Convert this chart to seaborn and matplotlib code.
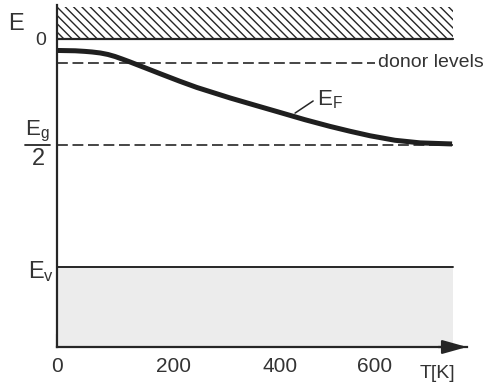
import numpy as np
import matplotlib
matplotlib.use("Agg")
import matplotlib.pyplot as plt
import seaborn as sns
from matplotlib.transforms import blended_transform_factory

# Fermi level of an n-type semiconductor versus temperature
temperature = [0, 30, 46, 58, 72, 85, 97, 109, 123, 149, 176, 211, 242, 304, 352, 401,
               451, 503, 546, 590, 646, 705, 783]
fermi_level = [-0.0504, -0.0518, -0.0544, -0.0570, -0.0614, -0.0680, -0.0768, -0.0877,
               -0.1009, -0.1263, -0.1526, -0.1855, -0.2127, -0.2588, -0.2908, -0.3224,
               -0.3540, -0.3833, -0.4048, -0.4246, -0.4443, -0.4557, -0.4605]

# Band diagram levels (conduction band edge at 0)
conduction_edge = 0.0
band_top = 0.14
donor_level = -0.105
midgap_level = -0.465
valence_edge = -1.0
t_end = 785
donor_end = 601

x_ticks = [0, 100, 200, 300, 400, 500, 600, 700]
x_tick_labels = ["0", "", "200", "", "400", "", "600", ""]

sns.set_theme(style="white")
plt.rcParams["font.family"] = ["Liberation Sans", "DejaVu Sans"]
plt.rcParams["mathtext.fontset"] = "custom"
plt.rcParams["mathtext.rm"] = "Liberation Sans"
plt.rcParams["hatch.linewidth"] = 1.0

ink = "#262626"
text_ink = "#333333"

fig = plt.figure(figsize=(4.84, 3.85), dpi=100)
ax = fig.add_axes([57 / 484, 38 / 385, 410 / 484, 342 / 385])

# Hand-drawn temperature axis: spacing tightens at high T
c = 2.222e-4


def fwd(t):
    t = np.asarray(t, dtype=float)
    return t - c * t ** 2


def inv(u):
    u = np.asarray(u, dtype=float)
    return (1 - np.sqrt(np.clip(1 - 4 * c * u, 0, None))) / (2 * c)


ax.set_xscale("function", functions=(fwd, inv))
ax.set_xlim(0, 821)
ax.set_ylim(-1.351, 0.149)

# conduction band (hatched) and valence band (shaded)
ax.fill_between([0, t_end], conduction_edge, band_top, facecolor="none",
                edgecolor=ink, hatch="\\\\\\\\", linewidth=0)
ax.fill_between([0, t_end], -1.351, valence_edge, color="#ececec", linewidth=0)
ax.plot([0, t_end], [conduction_edge, conduction_edge], color=ink, lw=1.6)
ax.plot([0, t_end], [valence_edge, valence_edge], color=ink, lw=1.4)

# donor level and midgap level
ax.plot([0, donor_end], [donor_level, donor_level], color=ink, lw=1.2, ls=(0, (6.5, 2.8)))
ax.plot([0, t_end], [midgap_level, midgap_level], color=ink, lw=1.2, ls=(0, (6.5, 2.8)))

# Fermi level
sns.lineplot(x=temperature, y=fermi_level, ax=ax, color="#1f1f1f", lw=3.6,
             sort=False, estimator=None, solid_joinstyle="round",
             solid_capstyle="butt")

ax.annotate("donor levels", xy=(donor_end, donor_level), xytext=(2, 0),
            textcoords="offset points", ha="left", va="center",
            fontsize=14, color=text_ink, annotation_clip=False)

ax.plot([431, 468], [-0.325, -0.272], color=ink, lw=1.1)
ax.text(476, -0.268, r"$\mathregular{E_F}$", ha="left", va="center",
        fontsize=16, color=text_ink)

# axes styling
for side in ("top", "right"):
    ax.spines[side].set_visible(False)
for side in ("left", "bottom"):
    ax.spines[side].set_color(ink)
    ax.spines[side].set_linewidth(1.6)

ax.set_xticks(x_ticks)
ax.set_xticklabels(x_tick_labels)
ax.xaxis.set_minor_locator(matplotlib.ticker.NullLocator())
ax.tick_params(axis="x", direction="in", length=9.5, width=1.5, pad=7,
               labelsize=15, colors=ink, labelcolor=text_ink, bottom=True)
ax.set_yticks([0])
ax.set_yticklabels(["0"])
ax.tick_params(axis="y", length=0, pad=8, labelsize=14, labelcolor=text_ink)
ax.grid(False)

ax.annotate("", xy=(1.0, 0), xycoords="axes fraction", xytext=(0.93, 0),
            textcoords="axes fraction",
            arrowprops=dict(arrowstyle="-|>,head_length=1.5,head_width=0.42",
                            color=ink, lw=1.6, shrinkA=0, shrinkB=0,
                            mutation_scale=10),
            annotation_clip=False)

# energy labels on the left
tr = blended_transform_factory(ax.transAxes, ax.transData)
ax.text(-0.078, -0.425, r"$\mathregular{E_g}$", transform=tr, ha="left",
        va="baseline", fontsize=16, color=text_ink)
ax.plot([-0.078, -0.017], [midgap_level, midgap_level], transform=tr,
        color=ink, lw=1.3, clip_on=False)
ax.text(-0.046, -0.478, "2", transform=tr, ha="center", va="top",
        fontsize=17, color=text_ink)
ax.text(-0.071, -1.048, r"$\mathregular{E_v}$", transform=tr, ha="left",
        va="baseline", fontsize=17, color=text_ink)

fig.text(16 / 484, 1 - 24 / 385, "E", ha="center", va="center", fontsize=17,
         color=text_ink)
fig.text(437 / 484, 1 - 373 / 385, "T[K]", ha="center", va="center",
         fontsize=14, color=text_ink)

fig.savefig("out.png", dpi=100)
